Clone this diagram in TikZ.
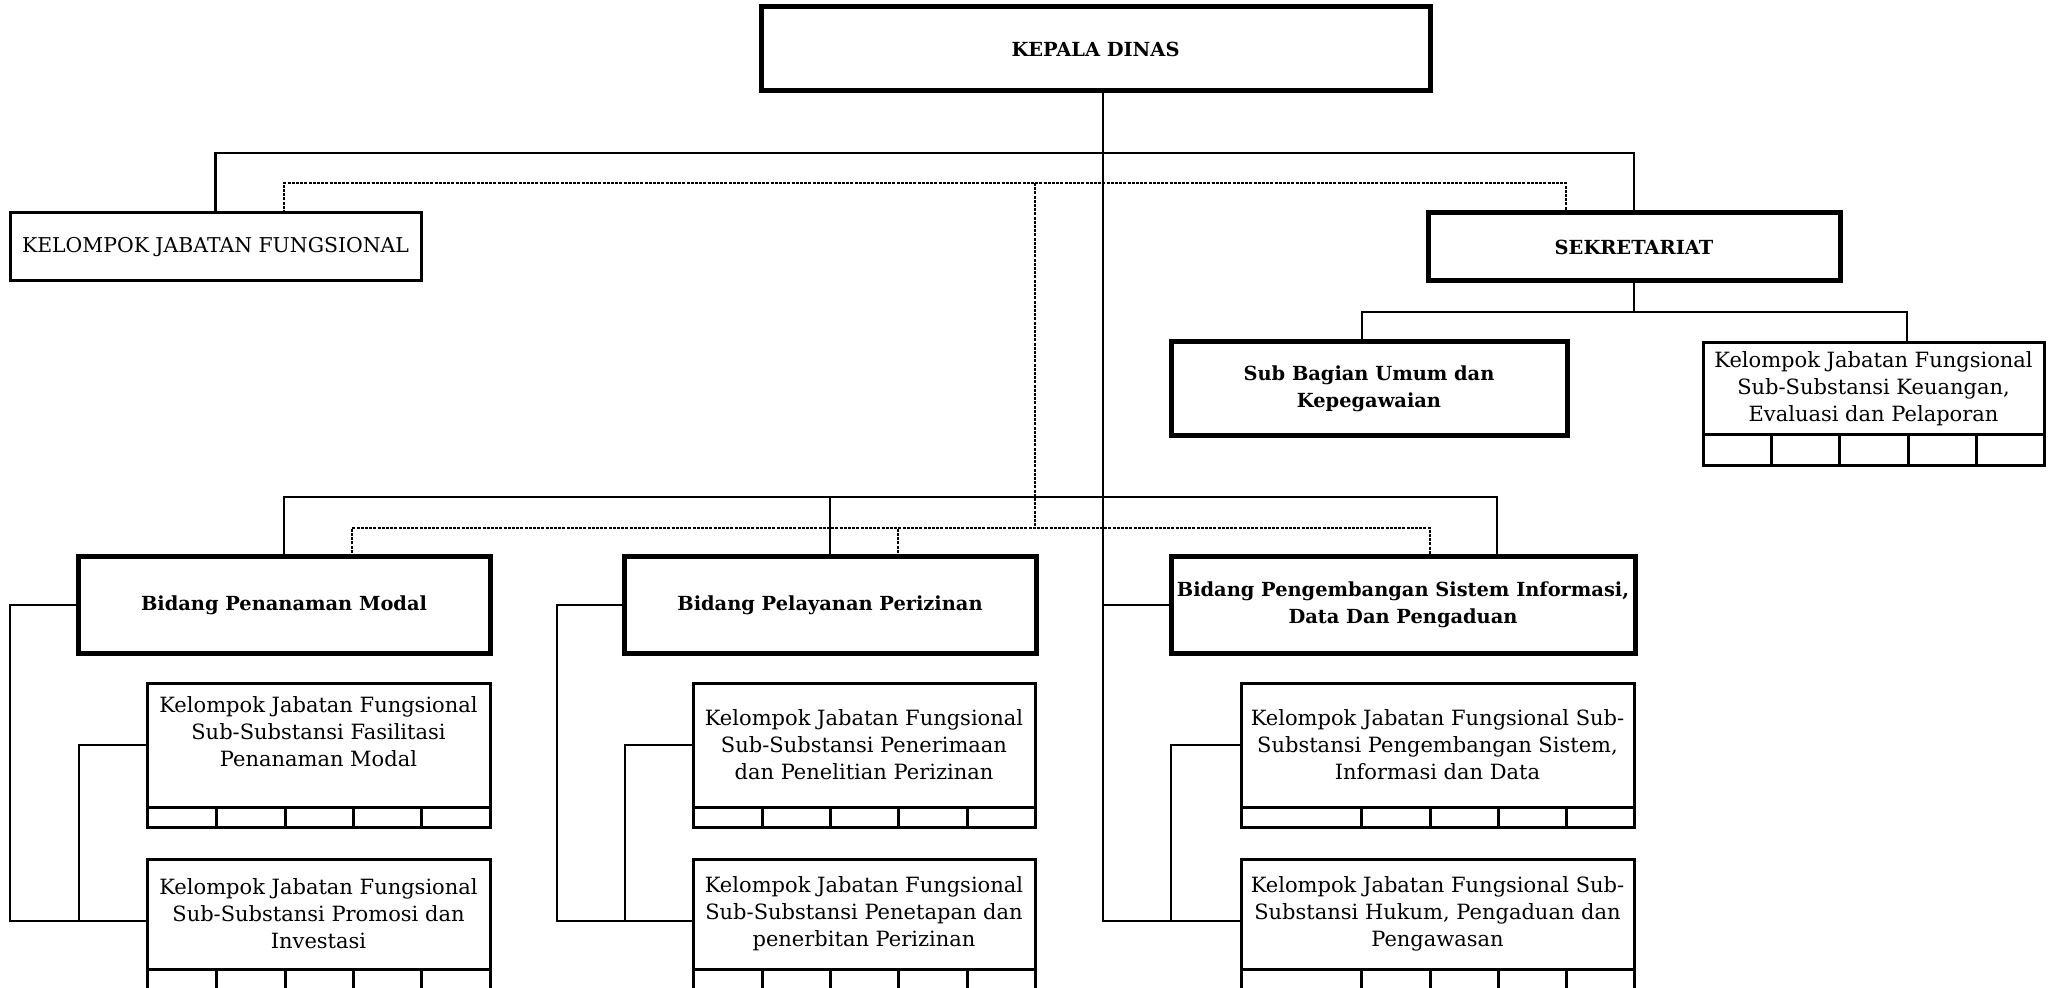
\documentclass[tikz,border=0pt]{standalone}
\usepackage{fontspec}
\setmainfont{DejaVu Serif}
\usetikzlibrary{calc}
\begin{document}
\begin{tikzpicture}[x=0.5pt,y=-0.5pt,
  thickbox/.style={draw, line width=2.5pt, inner sep=0pt, outer sep=0pt, align=center, font=\fontsize{9.7}{13.5}\selectfont\bfseries},
  thinbox/.style={draw, line width=1.5pt, inner sep=0pt, outer sep=0pt, align=center, font=\fontsize{10.5}{13.5}\selectfont},
  txt/.style={inner sep=0pt, outer sep=0pt, align=center, font=\fontsize{10.5}{13.5}\selectfont},
  celldiv/.style={line width=1.5pt},
  conn/.style={line width=1.4pt},
  dotline/.style={line width=1pt, dash pattern=on 1.5pt off 0.6pt},
]
\useasboundingbox (0,0) rectangle (2055,988);
\clip (0,0) rectangle (2055,988);

% ---------- top level ----------
\node[thickbox, minimum width=334.5pt, minimum height=42pt] (kd) at (1095.5,49) {KEPALA DINAS};
\node[thinbox, minimum width=205.5pt, minimum height=34pt, font=\fontsize{10.2}{13.5}\selectfont] (kjf) at (215.5,247) {KELOMPOK JABATAN FUNGSIONAL};
\node[thickbox, minimum width=206pt, minimum height=34pt] (sek) at (1634,247) {SEKRETARIAT};
\node[thickbox, minimum width=198pt, minimum height=47pt] (sbu) at (1369,389) {Sub Bagian Umum dan\\Kepegawaian};
\node[thinbox, minimum width=170.5pt, minimum height=46pt] (keu) at (1873.5,389) {Kelompok Jabatan Fungsional\\Sub-Substansi Keuangan,\\Evaluasi dan Pelaporan};
\node[thinbox, minimum width=170.5pt, minimum height=15.5pt] (keuc) at (1873.5,450.5) {};
\foreach \x in {1771,1839,1908,1976} \draw[celldiv] (\x,435) -- (\x,466);

% ---------- bidang ----------
\node[thickbox, minimum width=206pt, minimum height=48pt] (pm) at (284,605) {Bidang Penanaman Modal};
\node[thickbox, minimum width=206pt, minimum height=48pt] (pp) at (830,605) {Bidang Pelayanan Perizinan};
\node[thickbox, minimum width=232pt, minimum height=48pt] (psi) at (1403,605) {Bidang Pengembangan Sistem Informasi,\\Data Dan Pengaduan};

% ---------- sub boxes ----------
\node[thinbox, minimum width=171.5pt, minimum height=62pt] (pm1) at (318.5,745) {};
\node[txt] (pm1t) at ([yshift=6.75pt]pm1.center) {Kelompok Jabatan Fungsional\\Sub-Substansi Fasilitasi\\Penanaman Modal};
\node[thinbox, minimum width=171.5pt, minimum height=10pt] (pm1c) at (318.5,817) {};
\foreach \x in {216,285,353,421} \draw[celldiv] (\x,807) -- (\x,827);
\node[thinbox, minimum width=171.5pt, minimum height=55pt] (pm2) at (318.5,914) {Kelompok Jabatan Fungsional\\Sub-Substansi Promosi dan\\Investasi};
\node[thinbox, minimum width=171.5pt, minimum height=10.5pt] (pm2c) at (318.5,979.5) {};
\foreach \x in {216,285,353,421} \draw[celldiv] (\x,969) -- (\x,990);

\node[thinbox, minimum width=171pt, minimum height=62pt] (pp1) at (864,745) {Kelompok Jabatan Fungsional\\Sub-Substansi Penerimaan\\dan Penelitian Perizinan};
\node[thinbox, minimum width=171pt, minimum height=10pt] (pp1c) at (864,817) {};
\foreach \x in {762,830,898,967} \draw[celldiv] (\x,807) -- (\x,827);
\node[thinbox, minimum width=171pt, minimum height=55pt] (pp2) at (864,914) {Kelompok Jabatan Fungsional\\Sub-Substansi Penetapan dan\\penerbitan Perizinan};
\node[thinbox, minimum width=171pt, minimum height=10.5pt] (pp2c) at (864,979.5) {};
\foreach \x in {762,830,898,967} \draw[celldiv] (\x,969) -- (\x,990);

\node[thinbox, minimum width=196.5pt, minimum height=62pt] (psi1) at (1437.5,745) {Kelompok Jabatan Fungsional Sub-\\Substansi Pengembangan Sistem,\\Informasi dan Data};
\node[thinbox, minimum width=196.5pt, minimum height=10pt] (psi1c) at (1437.5,817) {};
\foreach \x in {1361,1430,1498,1566} \draw[celldiv] (\x,807) -- (\x,827);
\node[thinbox, minimum width=196.5pt, minimum height=55pt] (psi2) at (1437.5,914) {Kelompok Jabatan Fungsional Sub-\\Substansi Hukum, Pengaduan dan\\Pengawasan};
\node[thinbox, minimum width=196.5pt, minimum height=10.5pt] (psi2c) at (1437.5,979.5) {};
\foreach \x in {1361,1430,1498,1566} \draw[celldiv] (\x,969) -- (\x,990);

% ---------- helper coordinates ----------
\coordinate (tr) at (1103,921);
\coordinate (b1) at (1103,153);
\coordinate (b2) at (1103,497);
\coordinate (b3) at (1634,312);
\coordinate (d1) at (1035,183);
\coordinate (d2) at (1035,528);
\coordinate (xd1) at (284,0);
\coordinate (xd2) at (1566,0);
\coordinate (xd3) at (352,0);
\coordinate (xd4) at (898,0);
\coordinate (xd5) at (1430,0);
\coordinate (xs5) at (1497,0);
\coordinate (xs6) at (1362,0);
\coordinate (xs7) at (1907,0);

% ---------- solid connectors ----------
\draw[conn] (kd.south -| tr) -- (tr);
\draw[conn] (kjf.north) |- (b1) -| (sek.north);
\draw[conn] (sek.south) -- (b3);
\draw[conn] (sbu.north -| xs6) |- (b3) -| (keu.north -| xs7);
\draw[conn] (pm.north) |- (b2) -| (psi.north -| xs5);
\draw[conn] (pp.north) -- ++(0,-60);

\draw[conn] (pm.west) -- ++(-68,0) |- (pm2.west |- tr);
\draw[conn] (pm1.west) -- ++(-68,0) |- (pm2.west |- tr);
\draw[conn] (pp.west) -- ++(-67,0) |- (pp2.west |- tr);
\draw[conn] (pp1.west) -- ++(-68,0) |- (pp2.west |- tr);
\draw[conn] (psi.west) -- ++(-68,0) |- (psi2.west |- tr);
\draw[conn] (psi1.west) -- ++(-70,0) |- (psi2.west |- tr);

% ---------- dotted connectors ----------
\draw[dotline] (kjf.north -| xd1) |- (d1) -| (sek.north -| xd2);
\draw[dotline] (d1) -- (d2);
\draw[dotline] (pm.north -| xd3) |- (d2) -| (psi.north -| xd5);
\draw[dotline] (pp.north -| xd4) -- ++(0,-29);
\end{tikzpicture}
\end{document}
